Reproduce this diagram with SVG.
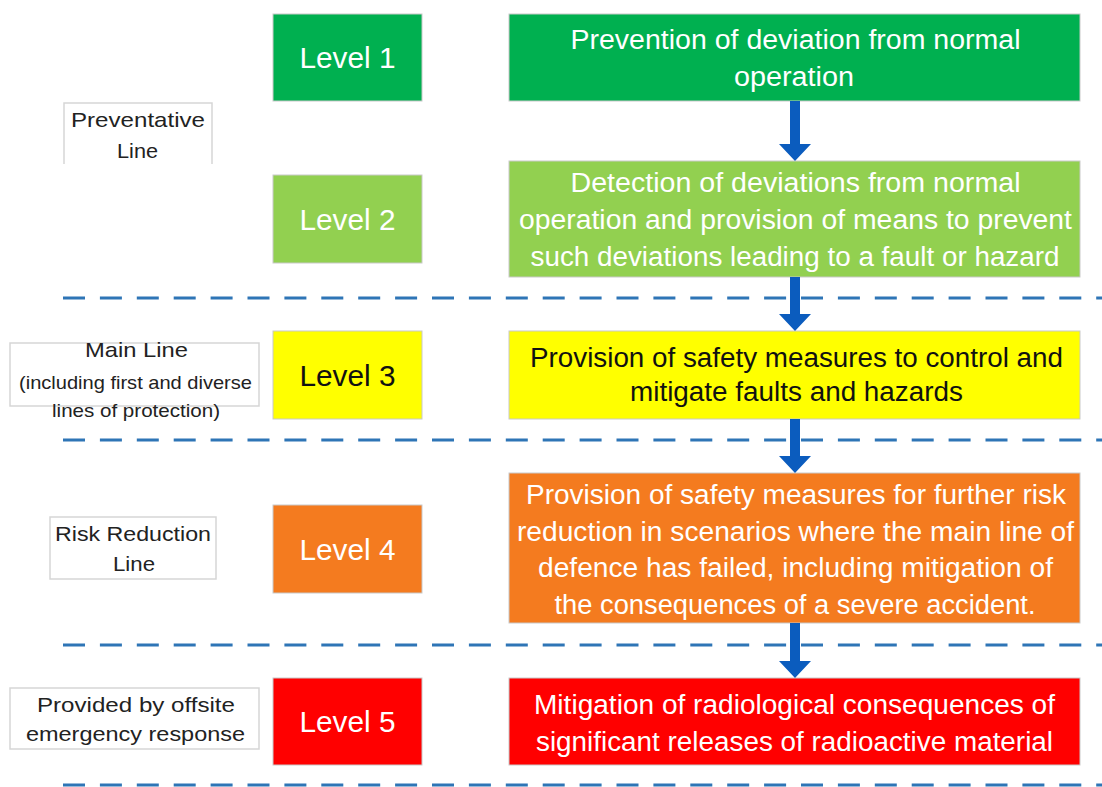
<svg xmlns="http://www.w3.org/2000/svg" width="1102" height="787" viewBox="0 0 1102 787">
<style>
.bg{fill:#ffffff}
.box{stroke:#c9c9c9;stroke-width:1}
.lbl{fill:none;stroke:#d6d6d6;stroke-width:1.5}
.t{font-family:"Liberation Sans",Arial,sans-serif;font-size:27px;text-anchor:middle;fill:#ffffff}
.lv{font-family:"Liberation Sans",Arial,sans-serif;font-size:30px;text-anchor:middle;fill:#ffffff}
.side{font-family:"Liberation Sans",Arial,sans-serif;font-size:21px;text-anchor:middle;fill:#222222}
.small{font-size:18.5px}
.dark{fill:#111111}
.dash{stroke:#2E75B6;stroke-width:3;stroke-dasharray:22 14.9;fill:none}
.arrow{fill:#0B5CBE}
.g1{fill:#00B050}.g2{fill:#92D050}.y3{fill:#FFFF00}.o4{fill:#F47B1F}.r5{fill:#FF0000}
</style>
<rect class="bg" x="0" y="0" width="1102" height="787"/>

<g id="separators">
<line class="dash" x1="63" y1="298" x2="1102" y2="298"/>
<line class="dash" x1="63" y1="440" x2="1102" y2="440"/>
<line class="dash" x1="63" y1="645" x2="1102" y2="645"/>
<line class="dash" x1="63" y1="785" x2="1102" y2="785"/>
</g>

<g id="label-preventative">
<path class="lbl" d="M64,164 V103 H212 V164"/>
<text class="side" x="138" y="127" textLength="134" lengthAdjust="spacingAndGlyphs">Preventative</text>
<text class="side" x="137.5" y="158" textLength="41" lengthAdjust="spacingAndGlyphs">Line</text>
</g>
<g id="label-main">
<rect class="lbl" x="10" y="343" width="249" height="63"/>
<text class="side" x="136.5" y="357" textLength="103" lengthAdjust="spacingAndGlyphs">Main Line</text>
<text class="side small" x="135.5" y="389" textLength="233" lengthAdjust="spacingAndGlyphs">(including first and diverse</text>
<text class="side small" x="136" y="417" textLength="168" lengthAdjust="spacingAndGlyphs">lines of protection)</text>
</g>
<g id="label-risk">
<rect class="lbl" x="50" y="517" width="166" height="62"/>
<text class="side" x="133" y="541" textLength="156" lengthAdjust="spacingAndGlyphs">Risk Reduction</text>
<text class="side" x="134" y="571" textLength="42" lengthAdjust="spacingAndGlyphs">Line</text>
</g>
<g id="label-offsite">
<rect class="lbl" x="10" y="688" width="249" height="61"/>
<text class="side" x="136" y="712" textLength="198" lengthAdjust="spacingAndGlyphs">Provided by offsite</text>
<text class="side" x="135.5" y="741" textLength="219" lengthAdjust="spacingAndGlyphs">emergency response</text>
</g>

<g id="level1">
<rect class="box g1" x="273" y="14" width="149" height="87"/>
<text class="lv" x="347.5" y="68" textLength="96" lengthAdjust="spacingAndGlyphs">Level 1</text>
</g>
<g id="level2">
<rect class="box g2" x="273" y="175" width="149" height="88"/>
<text class="lv" x="347.5" y="230" textLength="96" lengthAdjust="spacingAndGlyphs">Level 2</text>
</g>
<g id="level3">
<rect class="box y3" x="273" y="331" width="149" height="88"/>
<text class="lv dark" x="347.5" y="386" textLength="96" lengthAdjust="spacingAndGlyphs">Level 3</text>
</g>
<g id="level4">
<rect class="box o4" x="273" y="505" width="149" height="88"/>
<text class="lv" x="347.5" y="560" textLength="96" lengthAdjust="spacingAndGlyphs">Level 4</text>
</g>
<g id="level5">
<rect class="box r5" x="273" y="678" width="149" height="87"/>
<text class="lv" x="347.5" y="732" textLength="96" lengthAdjust="spacingAndGlyphs">Level 5</text>
</g>

<g id="desc1">
<rect class="box g1" x="509" y="14" width="571" height="87"/>
<text class="t" x="795.5" y="49" textLength="450" lengthAdjust="spacingAndGlyphs">Prevention of deviation from normal</text>
<text class="t" x="794" y="86" textLength="120" lengthAdjust="spacingAndGlyphs">operation</text>
</g>
<g id="desc2">
<rect class="box g2" x="509" y="161" width="571" height="116"/>
<text class="t" x="795.5" y="192" textLength="450" lengthAdjust="spacingAndGlyphs">Detection of deviations from normal</text>
<text class="t" x="795.5" y="229" textLength="553" lengthAdjust="spacingAndGlyphs">operation and provision of means to prevent</text>
<text class="t" x="795" y="266" textLength="529" lengthAdjust="spacingAndGlyphs">such deviations leading to a fault or hazard</text>
</g>
<g id="desc3">
<rect class="box y3" x="509" y="331" width="571" height="88"/>
<text class="t dark" x="796.5" y="367" textLength="533" lengthAdjust="spacingAndGlyphs">Provision of safety measures to control and</text>
<text class="t dark" x="796.5" y="401" textLength="333" lengthAdjust="spacingAndGlyphs">mitigate faults and hazards</text>
</g>
<g id="desc4">
<rect class="box o4" x="509" y="473" width="571" height="150"/>
<text class="t" x="796" y="504" textLength="540" lengthAdjust="spacingAndGlyphs">Provision of safety measures for further risk</text>
<text class="t" x="795.5" y="541" textLength="557" lengthAdjust="spacingAndGlyphs">reduction in scenarios where the main line of</text>
<text class="t" x="795.5" y="577" textLength="515" lengthAdjust="spacingAndGlyphs">defence has failed, including mitigation of</text>
<text class="t" x="795" y="614" textLength="481" lengthAdjust="spacingAndGlyphs">the consequences of a severe accident.</text>
</g>
<g id="desc5">
<rect class="box r5" x="509" y="678" width="571" height="87"/>
<text class="t" x="794.5" y="714" textLength="521" lengthAdjust="spacingAndGlyphs">Mitigation of radiological consequences of</text>
<text class="t" x="794.5" y="751" textLength="517" lengthAdjust="spacingAndGlyphs">significant releases of radioactive material</text>
</g>

<g id="connectors">
<path class="arrow" d="M790,101 H800 V144 H811 L795,161 L779,144 H790 Z"/>
<path class="arrow" d="M790,277 H800 V314 H811 L795,331 L779,314 H790 Z"/>
<path class="arrow" d="M790,419 H800 V456 H811 L795,473 L779,456 H790 Z"/>
<path class="arrow" d="M790,623 H800 V661 H811 L795,678 L779,661 H790 Z"/>
</g>
</svg>
